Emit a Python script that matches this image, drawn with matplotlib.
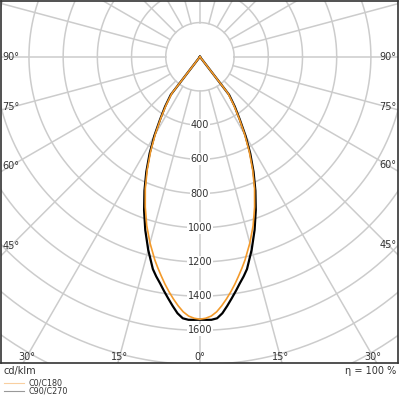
import numpy as np
import matplotlib
matplotlib.use("Agg")
import matplotlib.pyplot as plt
from matplotlib.lines import Line2D

# gamma angles (deg) and luminous intensity (cd/klm)
gamma = [0, 1.25, 2.5, 3.75, 5, 6.25, 7.5, 8.75, 10, 11.25, 12.5, 15, 17.5, 20, 22.5, 25,
         27.5, 30, 32.5, 35, 37.5, 40, 90, 180]
c0_c180 = [1535, 1530, 1518, 1495, 1462, 1425, 1386, 1345, 1302, 1260, 1218, 1128, 1035, 935,
           835, 730, 625, 522, 425, 345, 270, 0, 0, 0]
c90_c270 = [1538, 1539, 1540, 1533, 1506, 1466, 1425, 1385, 1345, 1310, 1272, 1169, 1063, 955,
            848, 742, 637, 533, 432, 355, 280, 0, 0, 0]
ring_values = [400, 600, 800, 1000, 1200, 1400, 1600]
angle_labels = [0, 15, 30, 45, 60, 75, 90]
unit = "cd/klm"
efficiency = "η = 100 %"

grid_col = "#cccccc"
text_col = "#333333"
fs = 7

fig = plt.figure(figsize=(4, 4), dpi=100)
ax = fig.add_axes([0.0025, 0.093, 0.9925, 0.904])
xmin, xmax, ymin, ymax = -1163, 1158, -1790, 325
ax.set_xlim(xmin, xmax)
ax.set_ylim(ymin, ymax)
ax.set_aspect("equal")
ax.set_xticks([])
ax.set_yticks([])
for s in ax.spines.values():
    s.set_color("#333333")
    s.set_linewidth(1.2)

# grid: rings every 200 and spokes every 15 degrees outside the inner ring
t = np.linspace(0, 2 * np.pi, 400)
for r in range(200, 2600, 200):
    ax.plot(r * np.cos(t), r * np.sin(t), color=grid_col, lw=1.1, zorder=1)
for a in range(0, 360, 15):
    ar = np.radians(a)
    ax.plot([200 * np.sin(ar), 3000 * np.sin(ar)], [-200 * np.cos(ar), -3000 * np.cos(ar)],
            color=grid_col, lw=1.1, zorder=1)

# curves, mirrored for the other half-plane
def draw(vals, color, lw, z):
    g = np.radians(np.array(gamma, dtype=float))
    v = np.array(vals, dtype=float)
    gg = np.concatenate([-g[::-1], g[1:]])
    vv = np.concatenate([v[::-1], v[1:]])
    ax.plot(vv * np.sin(gg), -vv * np.cos(gg), color=color, lw=lw, zorder=z,
            solid_joinstyle="round")

draw(c90_c270, "#000000", 1.6, 3)
draw(c0_c180, "#f39a2b", 1.2, 4)

# radial value labels
for v in ring_values:
    ax.text(0, -v, str(v), fontsize=fs, color=text_col, ha="center", va="center", zorder=5,
            bbox=dict(boxstyle="square,pad=0.1", fc="white", ec="none"))

# angle labels where the spokes meet the frame
ix = 58
iy = 35
for a in angle_labels:
    ar = np.radians(a)
    for sgn in ([1] if a == 0 else [-1, 1]):
        if a == 0:
            x, y = 0, ymin + iy
        else:
            dx = np.sin(ar)
            dy = -np.cos(ar)
            xe = (xmin + ix) if sgn < 0 else (xmax - ix)
            tx = abs(xe) / dx
            ty = (ymin + iy) / dy if dy < 0 else np.inf
            tt = min(tx, ty)
            x, y = sgn * dx * tt, dy * tt
        ax.text(x, y, f"{a}°", fontsize=fs, color=text_col, ha="center", va="center", zorder=5)

fig.text(0.01, 0.072, unit, fontsize=fs, color=text_col, ha="left", va="center")
fig.text(0.99, 0.072, efficiency, fontsize=fs, color=text_col, ha="right", va="center")

# legend
fig.add_artist(Line2D([0.01, 0.06], [0.043, 0.043], color="#f9cfa0", lw=0.8))
fig.add_artist(Line2D([0.01, 0.06], [0.023, 0.023], color="#999999", lw=0.8))
fig.text(0.07, 0.043, "C0/C180", fontsize=5.8, color=text_col, ha="left", va="center")
fig.text(0.07, 0.023, "C90/C270", fontsize=5.8, color=text_col, ha="left", va="center")

fig.savefig("out.png", dpi=100)
